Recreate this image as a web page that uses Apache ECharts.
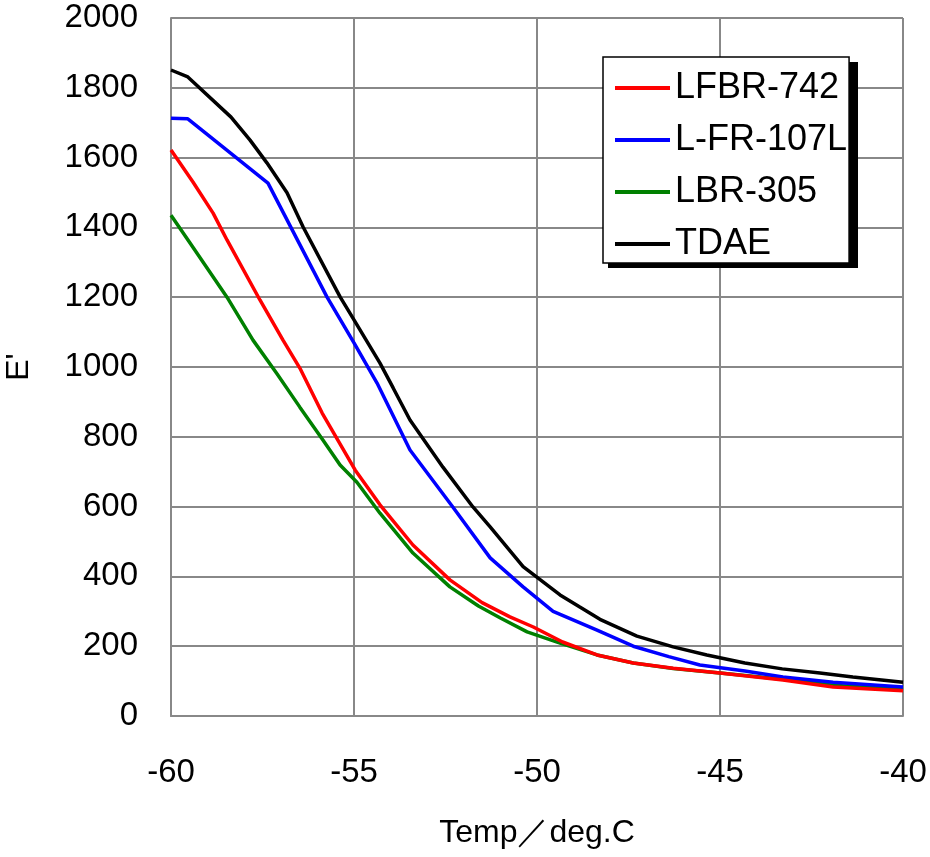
<!DOCTYPE html>
<html>
<head>
<meta charset="utf-8">
<script src="https://cdn.jsdelivr.net/npm/echarts@6/dist/echarts.min.js"></script>
<style>
  html, body { margin: 0; padding: 0; background: #fff; }
  #chart { width: 930px; height: 857px; }
</style>
</head>
<body>
<div id="chart"></div>
<script>
// Series names, in legend order
let seriesNames = ["LFBR-742", "L-FR-107L", "LBR-305", "TDAE"];
let seriesColors = ["#ff0000", "#0000ff", "#008000", "#000000"];

// [temperature, E'] pairs
let lfbr742 = [
  [-60, 1622], [-59.4, 1530], [-58.85, 1441], [-58.47, 1364],
  [-57.57, 1192], [-56.94, 1077], [-56.48, 997], [-55.87, 868], [-54.97, 705],
  [-54.29, 605], [-53.39, 490], [-52.38, 390], [-51.5, 325], [-50.74, 284],
  [-50.1, 255], [-49.3, 212], [-48.36, 175], [-47.37, 152], [-46.28, 137],
  [-45.0, 123], [-43.28, 103], [-41.91, 83], [-40, 72]
];
let lfr107l = [
  [-60, 1713], [-59.54, 1711], [-57.35, 1527], [-55.74, 1201], [-55.0, 1069],
  [-54.37, 954], [-53.47, 762], [-52.3, 599], [-51.28, 453], [-50.38, 370],
  [-49.56, 300], [-48.36, 246], [-47.37, 200], [-46.4, 170], [-45.55, 146],
  [-44.32, 129], [-43.28, 112], [-41.91, 97], [-40, 83]
];
let lbr305 = [
  [-60, 1435], [-59.48, 1355], [-58.47, 1200], [-57.76, 1077], [-57.1, 980],
  [-56.48, 885], [-55.85, 791], [-55.38, 719], [-54.92, 670],
  [-54.29, 581], [-53.39, 467], [-52.38, 370], [-51.6, 315], [-51.0, 281],
  [-50.27, 241], [-49.37, 209], [-48.36, 175], [-47.37, 152], [-46.28, 136],
  [-45.0, 123], [-43.28, 105], [-41.91, 88], [-40, 76]
];
let tdae = [
  [-60, 1851], [-59.54, 1831], [-58.36, 1716], [-57.84, 1650], [-57.38, 1585],
  [-56.83, 1499], [-56.39, 1401], [-55.38, 1201], [-55.0, 1135], [-54.29, 1011],
  [-53.93, 940], [-53.47, 848], [-52.57, 713], [-51.75, 599], [-51.28, 542],
  [-50.38, 428], [-49.37, 347], [-48.83, 312], [-48.28, 277], [-47.27, 229],
  [-46.28, 198], [-45.36, 175], [-44.32, 152], [-43.3, 135], [-42.27, 123],
  [-41.37, 112], [-40, 97]
];
let seriesData = [lfbr742, lfr107l, lbr305, tdae];

let fontFamily = "'Liberation Sans', Arial, sans-serif";
let gridColor = "#888888";

let chart = echarts.init(document.getElementById("chart"), null, { renderer: "canvas" });

chart.setOption({
  animation: false,
  backgroundColor: "#fff",
  textStyle: { fontFamily: fontFamily },
  grid: { left: 171, right: 27, top: 18, bottom: 141, containLabel: false, outerBoundsMode: "none" },
  // drop shadow behind the legend box
  graphic: [{
    type: "rect",
    left: 608,
    top: 62,
    shape: { width: 250, height: 206 },
    style: { fill: "#000" },
    z: 90
  }],
  legend: {
    data: seriesNames,
    orient: "vertical",
    left: 603,
    top: 57,
    z: 100,
    backgroundColor: "#fff",
    borderColor: "#000",
    borderWidth: 1.5,
    borderRadius: 0,
    padding: [13, 2, 1, 12],
    itemGap: 16,
    itemWidth: 55,
    itemHeight: 4,
    itemTextGap: 14,
    icon: "rect",
    textStyle: { fontSize: 36, color: "#000", fontFamily: fontFamily }
  },
  xAxis: {
    type: "value",
    min: -60,
    max: -40,
    interval: 5,
    name: "Temp／deg.C",
    nameLocation: "middle",
    nameGap: 101,
    nameTextStyle: { fontSize: 32, color: "#000", fontFamily: fontFamily },
    axisLine: { show: true, lineStyle: { color: gridColor, width: 2 } },
    axisTick: { show: false },
    axisLabel: { fontSize: 33, color: "#000", margin: 40, fontFamily: fontFamily },
    splitLine: { show: true, lineStyle: { color: gridColor, width: 2 } }
  },
  yAxis: {
    type: "value",
    min: 0,
    max: 2000,
    interval: 200,
    name: "E'",
    nameLocation: "middle",
    nameRotate: 90,
    nameGap: 136,
    nameTextStyle: { fontSize: 32, color: "#000", fontFamily: fontFamily },
    axisLine: { show: true, lineStyle: { color: gridColor, width: 2 } },
    axisTick: { show: false },
    axisLabel: {
      fontSize: 33, color: "#000", margin: 33, fontFamily: fontFamily,
      formatter: (v) => String(v)
    },
    splitLine: { show: true, lineStyle: { color: gridColor, width: 2 } }
  },
  series: seriesNames.map((name, i) => ({
    name: name,
    type: "line",
    data: seriesData[i],
    showSymbol: false,
    smooth: false,
    color: seriesColors[i],
    lineStyle: { color: seriesColors[i], width: 3.5 },
    z: 10 - i
  }))
});
</script>
</body>
</html>
